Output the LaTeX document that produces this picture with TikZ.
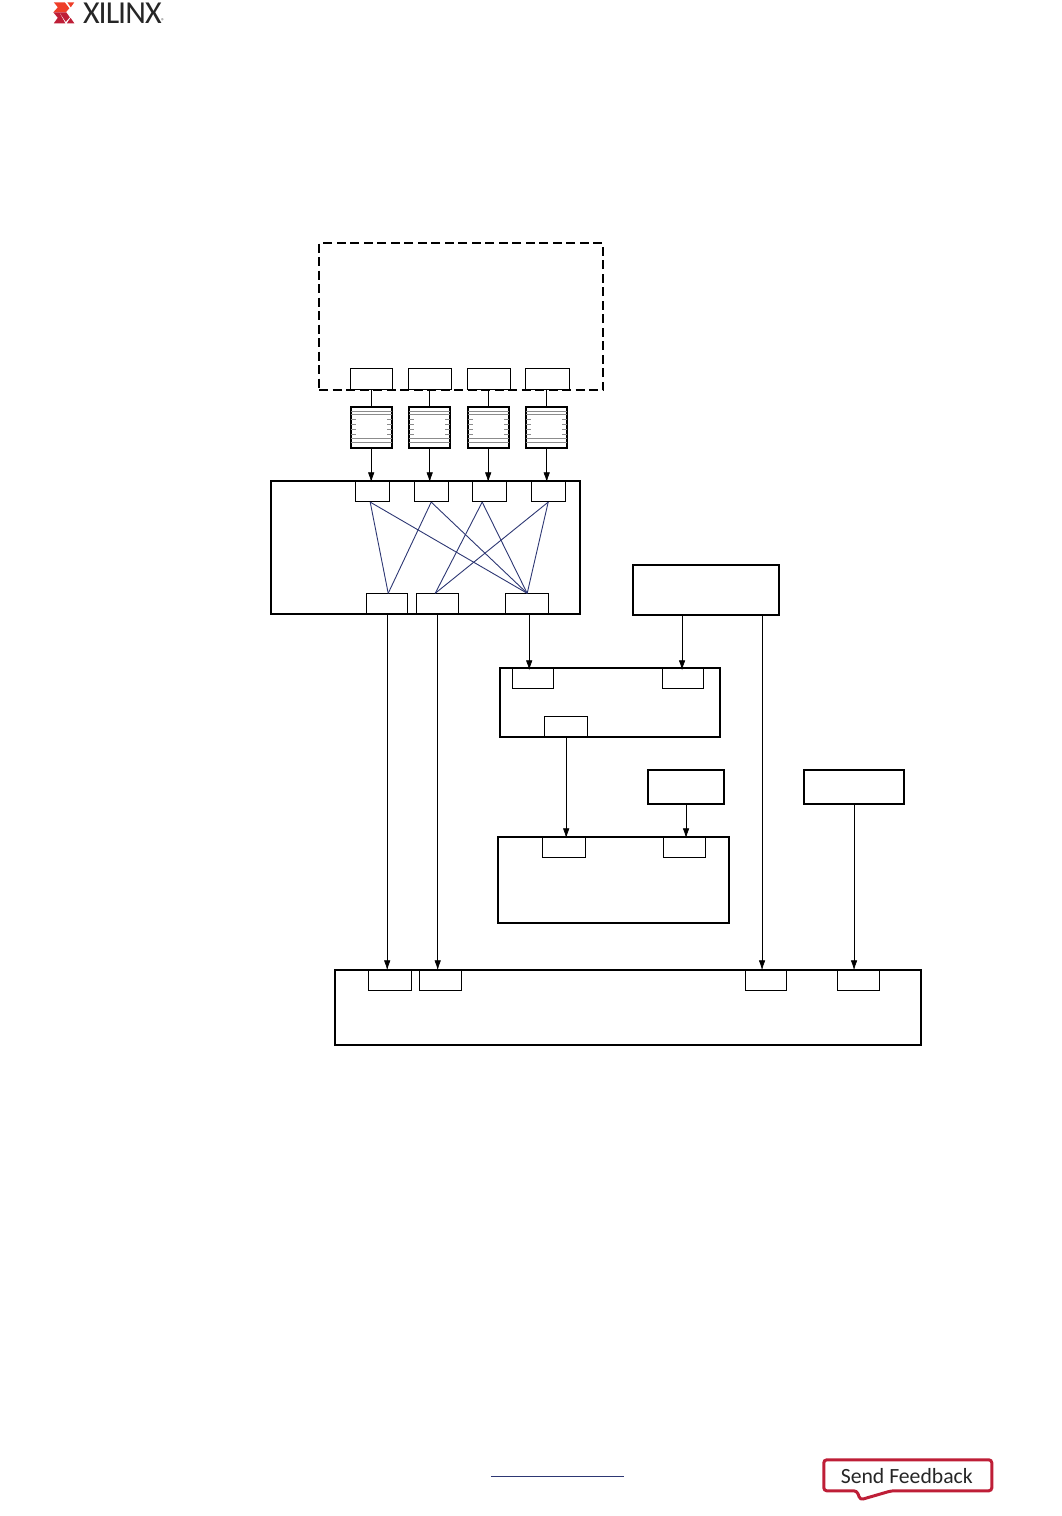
\documentclass[tikz,border=0pt]{standalone}
\usepackage{fontspec}
\usepackage{xcolor}
\usepackage{tikz}
\usetikzlibrary{arrows.meta,positioning}
\setmainfont{Carlito}
\definecolor{xilred}{RGB}{190,30,55}
\definecolor{xilorange}{RGB}{238,62,40}
\definecolor{wireblue}{RGB}{45,55,115}
\tikzset{
    block/.style={draw, line width=1.5pt, anchor=north west, inner sep=0pt},
    port/.style={draw, line width=0.8pt, anchor=north west, inner sep=0pt, minimum height=21pt},
    fifo/.style={draw, line width=1.8pt, anchor=north west, inner sep=0pt, minimum width=41pt, minimum height=41pt},
    feed/.style={-{Latex[length=10pt,width=6.5pt]}, line width=0.7pt},
    wire/.style={draw=wireblue, line width=0.9pt},
    fifoline/.style={draw=black!45, line width=0.6pt}
}
\begin{document}
\begin{tikzpicture}[x=1pt, y=-1pt]
    \useasboundingbox (0.7,0.7) rectangle (1062.7,1516.7);
    % header
    \fill[xilorange] (54.5,3) -- (65.5,3) -- (70,9) -- (66.5,13) -- (54,13) -- (58.5,8) -- cycle;
    \fill[xilorange] (68,3) -- (75,3) -- (71.5,8) -- cycle;
    \fill[xilred] (54,13) -- (60,13) -- (66,24) -- (54.5,24) -- (58.5,18.5) -- cycle;
    \fill[xilred] (60,13) -- (67,13) -- (70.5,18) -- (66.5,22.5) -- cycle;
    \fill[xilred] (67.5,24) -- (75,24) -- (71.3,18.5) -- cycle;
    \node[anchor=west, inner sep=0pt, font=\fontsize{32}{32}\selectfont, text=black!85] (logo) at (83.5,14) {\addfontfeature{LetterSpace=-3}XILINX};
    \node[anchor=center, inner sep=0pt, font=\fontsize{7}{7}\selectfont, text=black!70] (logomark) at (163.5,21.5) {®};
    % memory controller side
    \node[block, dash pattern=on 9pt off 4.5pt, minimum width=284pt, minimum height=147pt] (source) at (319,243) {};
    \node[port, minimum width=42pt] (out1) at (351,369) {};
    \node[port, minimum width=43pt] (out2) at (409,369) {};
    \node[port, minimum width=43pt] (out3) at (468,369) {};
    \node[port, minimum width=44pt] (out4) at (526,369) {};
    \node[fifo] (fifo1) at (350.5,407) {};
    \node[fifo] (fifo2) at (409,407) {};
    \node[fifo] (fifo3) at (467.5,407) {};
    \node[fifo] (fifo4) at (526,407) {};
    \foreach \n in {1,2,3,4} {
        \foreach \d in {5,8,32,36} {
            \draw[fifoline] ([xshift=1pt,yshift=-\d pt]fifo\n.north west) -- ([xshift=-1pt,yshift=-\d pt]fifo\n.north east);
        }
        \foreach \d in {13,18,23,28} {
            \draw[fifoline] ([xshift=1pt,yshift=-\d pt]fifo\n.north west) -- ++(5,0);
            \draw[fifoline] ([xshift=-1pt,yshift=-\d pt]fifo\n.north east) -- ++(-5,0);
        }
    }
    % interconnect
    \node[block, minimum width=309pt, minimum height=133pt] (xbar) at (271,481) {};
    \node[port, minimum width=34pt] (in1) at (356,481) {};
    \node[port, minimum width=34pt] (in2) at (415,481) {};
    \node[port, minimum width=34pt] (in3) at (473,481) {};
    \node[port, minimum width=34pt] (in4) at (532,481) {};
    \node[port, minimum width=41pt, minimum height=20pt] (mid1) at (367,594) {};
    \node[port, minimum width=42pt, minimum height=20pt] (mid2) at (417,594) {};
    \node[port, minimum width=43pt, minimum height=20pt] (mid3) at (506,594) {};
    % lower blocks
    \node[block, minimum width=146pt, minimum height=50pt] (ctrl) at (633,565) {};
    \node[block, minimum width=220pt, minimum height=69pt] (conv) at (500,668) {};
    \node[port, minimum width=41pt] (convA) at (513,668) {};
    \node[port, minimum width=41pt] (convB) at (663,668) {};
    \node[port, minimum width=43pt] (convC) at (545,717) {};
    \node[block, minimum width=76pt, minimum height=34pt] (clkA) at (648,770) {};
    \node[block, minimum width=100pt, minimum height=34pt] (clkB) at (804,770) {};
    \node[block, minimum width=231pt, minimum height=86pt] (dma) at (498,837) {};
    \node[port, minimum width=43pt] (dmaA) at (543,837) {};
    \node[port, minimum width=42pt] (dmaB) at (664,837) {};
    \node[block, minimum width=586pt, minimum height=75pt] (host) at (335,970) {};
    \node[port, minimum width=43pt] (hostA) at (369,970) {};
    \node[port, minimum width=42pt] (hostB) at (420,970) {};
    \node[port, minimum width=41pt] (hostC) at (746,970) {};
    \node[port, minimum width=42pt] (hostD) at (838,970) {};
    % connectors
    \foreach \n in {1,2,3,4} {
        \draw[line width=0.7pt] (out\n.south -| fifo\n.north) -- (fifo\n.north);
        \draw[feed] (fifo\n.south) -- ([yshift=-2pt]fifo\n.south |- in\n.north);
    }
    \draw[wire] ([xshift=-2.5pt]in1.south) -- ([xshift=1pt]mid1.north);
    \draw[wire] ([xshift=-2.5pt]in1.south) -- (mid3.north);
    \draw[wire] ([xshift=-0.5pt]in2.south) -- ([xshift=1pt]mid1.north);
    \draw[wire] ([xshift=-0.5pt]in2.south) -- (mid3.north);
    \draw[wire] ([xshift=-7.5pt]in3.south) -- ([xshift=-2.5pt]mid2.north);
    \draw[wire] ([xshift=-7.5pt]in3.south) -- (mid3.north);
    \draw[wire] ([xshift=-0.5pt]in4.south) -- ([xshift=-2.5pt]mid2.north);
    \draw[wire] ([xshift=-0.5pt]in4.south) -- (mid3.north);
    \draw[feed] (mid1.south) -- ([yshift=-1pt]mid1.south |- hostA.north);
    \draw[feed] (mid2.south) -- ([yshift=-1pt]mid2.south |- hostB.north);
    \draw[feed] ([xshift=2pt]mid3.south) -- ([xshift=2pt,yshift=-3pt]mid3.south |- convA.north);
    \draw[feed] ([xshift=-24pt]ctrl.south) -- ([xshift=-24pt,yshift=-3pt]ctrl.south |- convB.north);
    \draw[feed] ([xshift=56pt]ctrl.south) -- ([xshift=56pt,yshift=-1pt]ctrl.south |- hostC.north);
    \draw[feed] (convC.south) -- ([yshift=-2pt]convC.south |- dmaA.north);
    \draw[feed] (clkA.south) -- ([yshift=-2pt]clkA.south |- dmaB.north);
    \draw[feed] (clkB.south) -- ([yshift=-1pt]clkB.south |- hostD.north);
    % footer
    \coordinate (ruleL) at (491.5,1477.5);
    \coordinate (ruleR) at (624.5,1477.5);
    \draw[wireblue, line width=0.9pt] (ruleL) -- (ruleR);
    \draw[xilred, line width=3pt, rounded corners=3pt] (824.5,1460.5) -- (992.5,1460.5) -- (992.5,1491.5) -- (892,1491.5) -- (861,1500.5) -- (857.5,1491.5) -- (824.5,1491.5) -- cycle;
    \node[font=\fontsize{21.7}{22}\selectfont, text=black!85] (feedback) at (907.5,1476.5) {Send Feedback};
\end{tikzpicture}
\end{document}
